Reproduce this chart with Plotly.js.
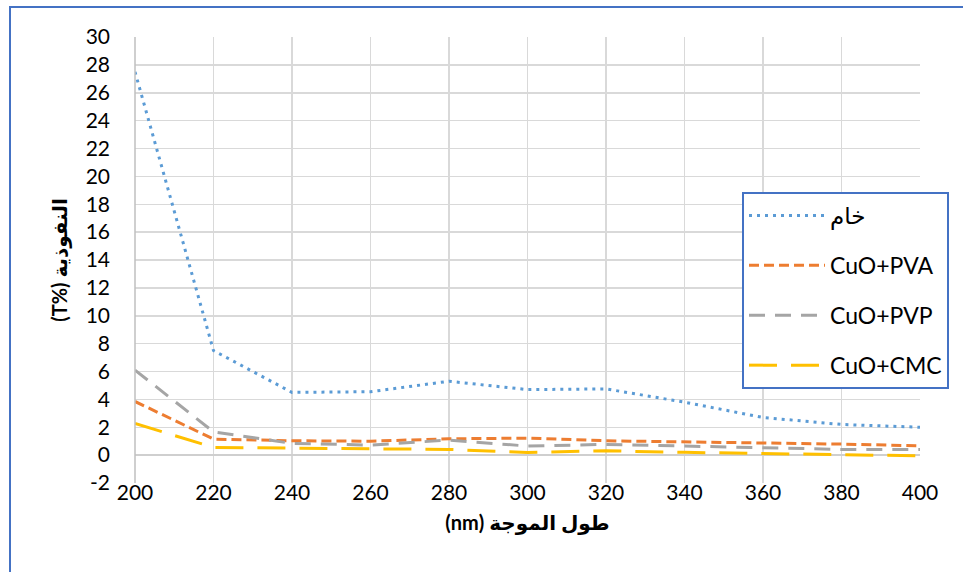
<!DOCTYPE html>
<html>
<head>
<meta charset="utf-8">
<script src="https://cdn.plot.ly/plotly-3.0.1.min.js"></script>
<style>html,body{margin:0;padding:0;background:#fff;}#chart{width:963px;height:572px;}</style>
</head>
<body>
<div id="chart"></div>
<script>
const wavelength = [200, 220, 240, 260, 280, 300, 320, 340, 360, 380, 400];
const raw = [27.5, 7.5, 4.5, 4.55, 5.3, 4.7, 4.75, 3.8, 2.7, 2.2, 2.0];
const cuoPVA = [3.85, 1.15, 1.03, 1.0, 1.17, 1.22, 1.03, 0.96, 0.91, 0.79, 0.67];
const cuoPVP = [6.1, 1.67, 0.84, 0.72, 1.08, 0.65, 0.77, 0.65, 0.48, 0.41, 0.41];
const cuoCMC = [2.27, 0.55, 0.5, 0.45, 0.41, 0.19, 0.31, 0.2, 0.1, 0.02, -0.05];
const seriesNames = ['خام', 'CuO+PVA', 'CuO+PVP', 'CuO+CMC'];
const xTicks = [200, 220, 240, 260, 280, 300, 320, 340, 360, 380, 400];
const yTicks = [-2, 0, 2, 4, 6, 8, 10, 12, 14, 16, 18, 20, 22, 24, 26, 28, 30];
const xTitle = 'طول الموجة (nm)';
const yTitle = 'النفوذية (T%\u200E)';

const FONT = "Lato, 'DejaVu Sans', sans-serif";
const rtl = s => '\u202B' + s + '\u202C';

function tr(y, name, color, dash, grp) {
  return {x: wavelength, y: y, name: name, type: 'scatter', mode: 'lines',
    legendgroup: grp, line: {color: color, width: 3, dash: dash}};
}
const data = [
  tr(raw, seriesNames[0], '#5b9bd5', '3px,5px', 'a'),
  tr(cuoPVA, seriesNames[1], '#ed7d31', '10px,5px', 'b'),
  tr(cuoPVP, seriesNames[2], '#a5a5a5', '16px,10px', 'c'),
  tr(cuoCMC, seriesNames[3], '#ffc000', '28px,14px', 'd')
];

const L = 135, R = 920, T = 37, B = 483, W = 963, H = 572;
const px = v => (v - L) / (R - L);
const py = v => (B - v) / (B - T);

const layout = {
  width: W, height: H,
  margin: {l: L, r: W - R, t: T, b: H - B, pad: 0},
  paper_bgcolor: '#ffffff', plot_bgcolor: '#ffffff',
  font: {family: FONT, size: 21, color: '#000'},
  showlegend: true,
  legend: {
    x: px(742), y: py(192), xanchor: 'left', yanchor: 'top',
    bgcolor: '#ffffff', bordercolor: '#4472c4', borderwidth: 2,
    font: {family: FONT, size: 23, color: '#000'},
    tracegroupgap: 17, traceorder: 'grouped', itemwidth: 76
  },
  xaxis: {
    range: [200, 400], tickvals: xTicks, ticktext: xTicks.map(String),
    showgrid: true, gridcolor: '#d9d9d9', gridwidth: 1.5,
    zeroline: false, showline: false, ticks: '', ticklabelstandoff: -5,
    tickfont: {family: FONT, size: 21, color: '#000'},
    title: {text: '<b>' + rtl(xTitle) + '</b>', font: {family: FONT, size: 20, color: '#000'}, standoff: 12}
  },
  yaxis: {
    range: [-2, 30], tickvals: yTicks, ticktext: yTicks.map(String),
    showgrid: true, gridcolor: '#d9d9d9', gridwidth: 1.5,
    zeroline: true, zerolinecolor: '#cfcfcf', zerolinewidth: 1.5,
    showline: false, ticks: '', ticklabelstandoff: 24,
    tickfont: {family: FONT, size: 21, color: '#000'},
    title: {text: '<b>' + rtl(yTitle) + '</b>', font: {family: FONT, size: 20, color: '#000'}, standoff: 12}
  },
  shapes: [
    {type: 'line', xref: 'paper', yref: 'paper', x0: 0, x1: 0, y0: 0, y1: 1,
      line: {color: '#bfbfbf', width: 1.5}},
    {type: 'rect', xref: 'paper', yref: 'paper', x0: px(10), x1: px(970), y0: py(580), y1: py(7),
      line: {color: '#4472c4', width: 2}, fillcolor: 'rgba(0,0,0,0)', layer: 'above'}
  ]
};

Plotly.newPlot('chart', data, layout, {displayModeBar: false, staticPlot: true});
</script>
</body>
</html>
